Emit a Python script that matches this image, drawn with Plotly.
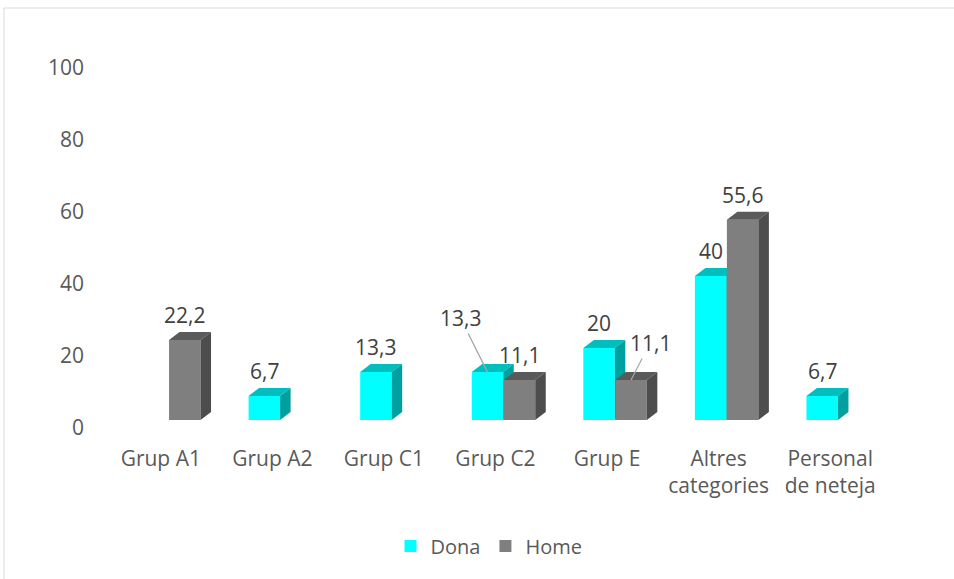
import plotly.graph_objects as go

# ---- data ----
categories = ["Grup A1", "Grup A2", "Grup C1", "Grup C2", "Grup E",
              "Altres<br>categories", "Personal<br>de neteja"]
dona = [None, 6.7, 13.3, 13.3, 20, 40, 6.7]
home = [22.2, None, None, 11.1, 11.1, 55.6, None]
y_ticks = [0, 20, 40, 60, 80, 100]

# ---- style / geometry ----
W, H = 954, 579
ML, MR, MT, MB = 105, 68, 50, 139
PW, PH = W - ML - MR, H - MT - MB
XR = [-0.5, len(categories) - 0.5]
px_per_x = PW / (XR[1] - XR[0])
PX_PER_Y = 3.6
Y0 = -(PH - 420 + MT) / PX_PER_Y  # value 0 drawn at pixel 420
YR = [Y0, Y0 + PH / PX_PER_Y]
LABEL_SHIFT = 8 / PX_PER_Y          # axis labels sit 8px below the bar bases
BW = 31.5 / px_per_x                # bar width
OFF_D = -8 / px_per_x               # centre offset of Dona bars
OFF_H = 24 / px_per_x               # centre offset of Home bars
DX = 10.5 / px_per_x                # 3D depth (x)
DY = 8 / PX_PER_Y                   # 3D depth (y)

FONT = "Open Sans"
FS = 21
AX_COL = "#595959"
LBL_COL = "#404040"

series = [
    ("Dona", dona, OFF_D, "#00FFFF", "#00BEBE", "#00A0A0", "y"),
    ("Home", home, OFF_H, "#7F7F7F", "#5A5A5A", "#4D4D4D", "y3"),
]

fig = go.Figure()
annotations = []


def fmt(v):
    return f"{v:g}".replace(".", ",")


for name, vals, off, cf, ct, cs, yax in series:
    xs = [i for i, v in enumerate(vals) if v is not None]
    ys = [v for v in vals if v is not None]
    fig.add_trace(go.Bar(
        name=name, x=xs, y=ys, width=BW, offset=off - BW / 2,
        marker=dict(color=cf, line=dict(width=0)), yaxis=yax,
        hoverinfo="skip"))
    top_x, top_y, side_x, side_y = [], [], [], []
    for i, v in zip(xs, ys):
        L = i + off - BW / 2
        R = i + off + BW / 2
        top_x += [L, L + DX, R + DX, R, L, None]
        top_y += [v, v + DY, v + DY, v, v, None]
        side_x += [R, R, R + DX, R + DX, R, None]
        side_y += [0, v, v + DY, DY, 0, None]
    for fx, fy, col in ((top_x, top_y, ct), (side_x, side_y, cs)):
        fig.add_trace(go.Scatter(
            x=fx, y=fy, fill="toself", fillcolor=col, mode="lines",
            line=dict(width=0, color=col), showlegend=False,
            hoverinfo="skip", yaxis=yax))

# invisible trace so that the tick-label axis is rendered
fig.add_trace(go.Scatter(x=[None], y=[None], yaxis="y2", showlegend=False,
                         hoverinfo="skip", mode="markers"))

# ---- data labels ----
leader = {("Dona", 3): (-27, -54), ("Home", 4): (19, -37)}
for name, vals, off, *_ in series:
    for i, v in enumerate(vals):
        if v is None:
            continue
        if (name, i) in leader:
            ax, ay = leader[(name, i)]
            annotations.append(dict(
                x=i + off, y=v, xref="x", yref="y", text=fmt(v),
                showarrow=True, arrowhead=0, arrowwidth=1.2,
                arrowcolor="#A6A6A6", ax=ax, ay=ay,
                font=dict(family=FONT, size=FS, color=LBL_COL)))
        else:
            annotations.append(dict(
                x=i + off, y=v + DY + 4.7, xref="x", yref="y",
                text=fmt(v), showarrow=False, yanchor="middle",
                font=dict(family=FONT, size=FS, color=LBL_COL)))

fig.update_layout(
    width=W, height=H,
    margin=dict(l=ML, r=MR, t=MT, b=MB),
    paper_bgcolor="white", plot_bgcolor="white",
    barmode="overlay",
    font=dict(family=FONT, size=FS, color=AX_COL),
    xaxis=dict(range=XR, tickmode="array",
               tickvals=list(range(len(categories))), ticktext=categories,
               showgrid=False, zeroline=False, showline=False, ticks="",
               ticklabelstandoff=4,
               tickfont=dict(family=FONT, size=FS, color=AX_COL)),
    yaxis=dict(range=YR, showgrid=False, zeroline=False, showline=False,
               showticklabels=False, ticks=""),
    yaxis2=dict(range=[YR[0] + LABEL_SHIFT, YR[1] + LABEL_SHIFT],
                overlaying="y", side="left", anchor="x",
                tickmode="array", tickvals=y_ticks,
                showgrid=False, zeroline=False, showline=False, ticks="",
                ticklabelstandoff=20,
                tickfont=dict(family=FONT, size=FS, color=AX_COL)),
    yaxis3=dict(range=YR, overlaying="y", side="left", anchor="x",
                showgrid=False, zeroline=False, showline=False,
                showticklabels=False, ticks=""),
    legend=dict(orientation="h", x=(492 - 3 - ML) / PW, xanchor="center",
                y=-(546 - (MT + PH)) / PH, yanchor="middle",
                font=dict(family=FONT, size=20, color=AX_COL),
                itemwidth=30, traceorder="normal"),
    annotations=annotations,
    shapes=[dict(type="rect", xref="paper", yref="paper",
                 x0=(4 - ML) / PW, x1=(W + 20 - ML) / PW,
                 y0=-(H + 20 - MT - PH) / PH, y1=(MT + PH - 8) / PH,
                 line=dict(color="#D9D9D9", width=1), fillcolor="rgba(0,0,0,0)",
                 layer="below")],
)

fig.write_html("out.html", config={"displayModeBar": False},
               post_script="document.body.style.margin='0';")
